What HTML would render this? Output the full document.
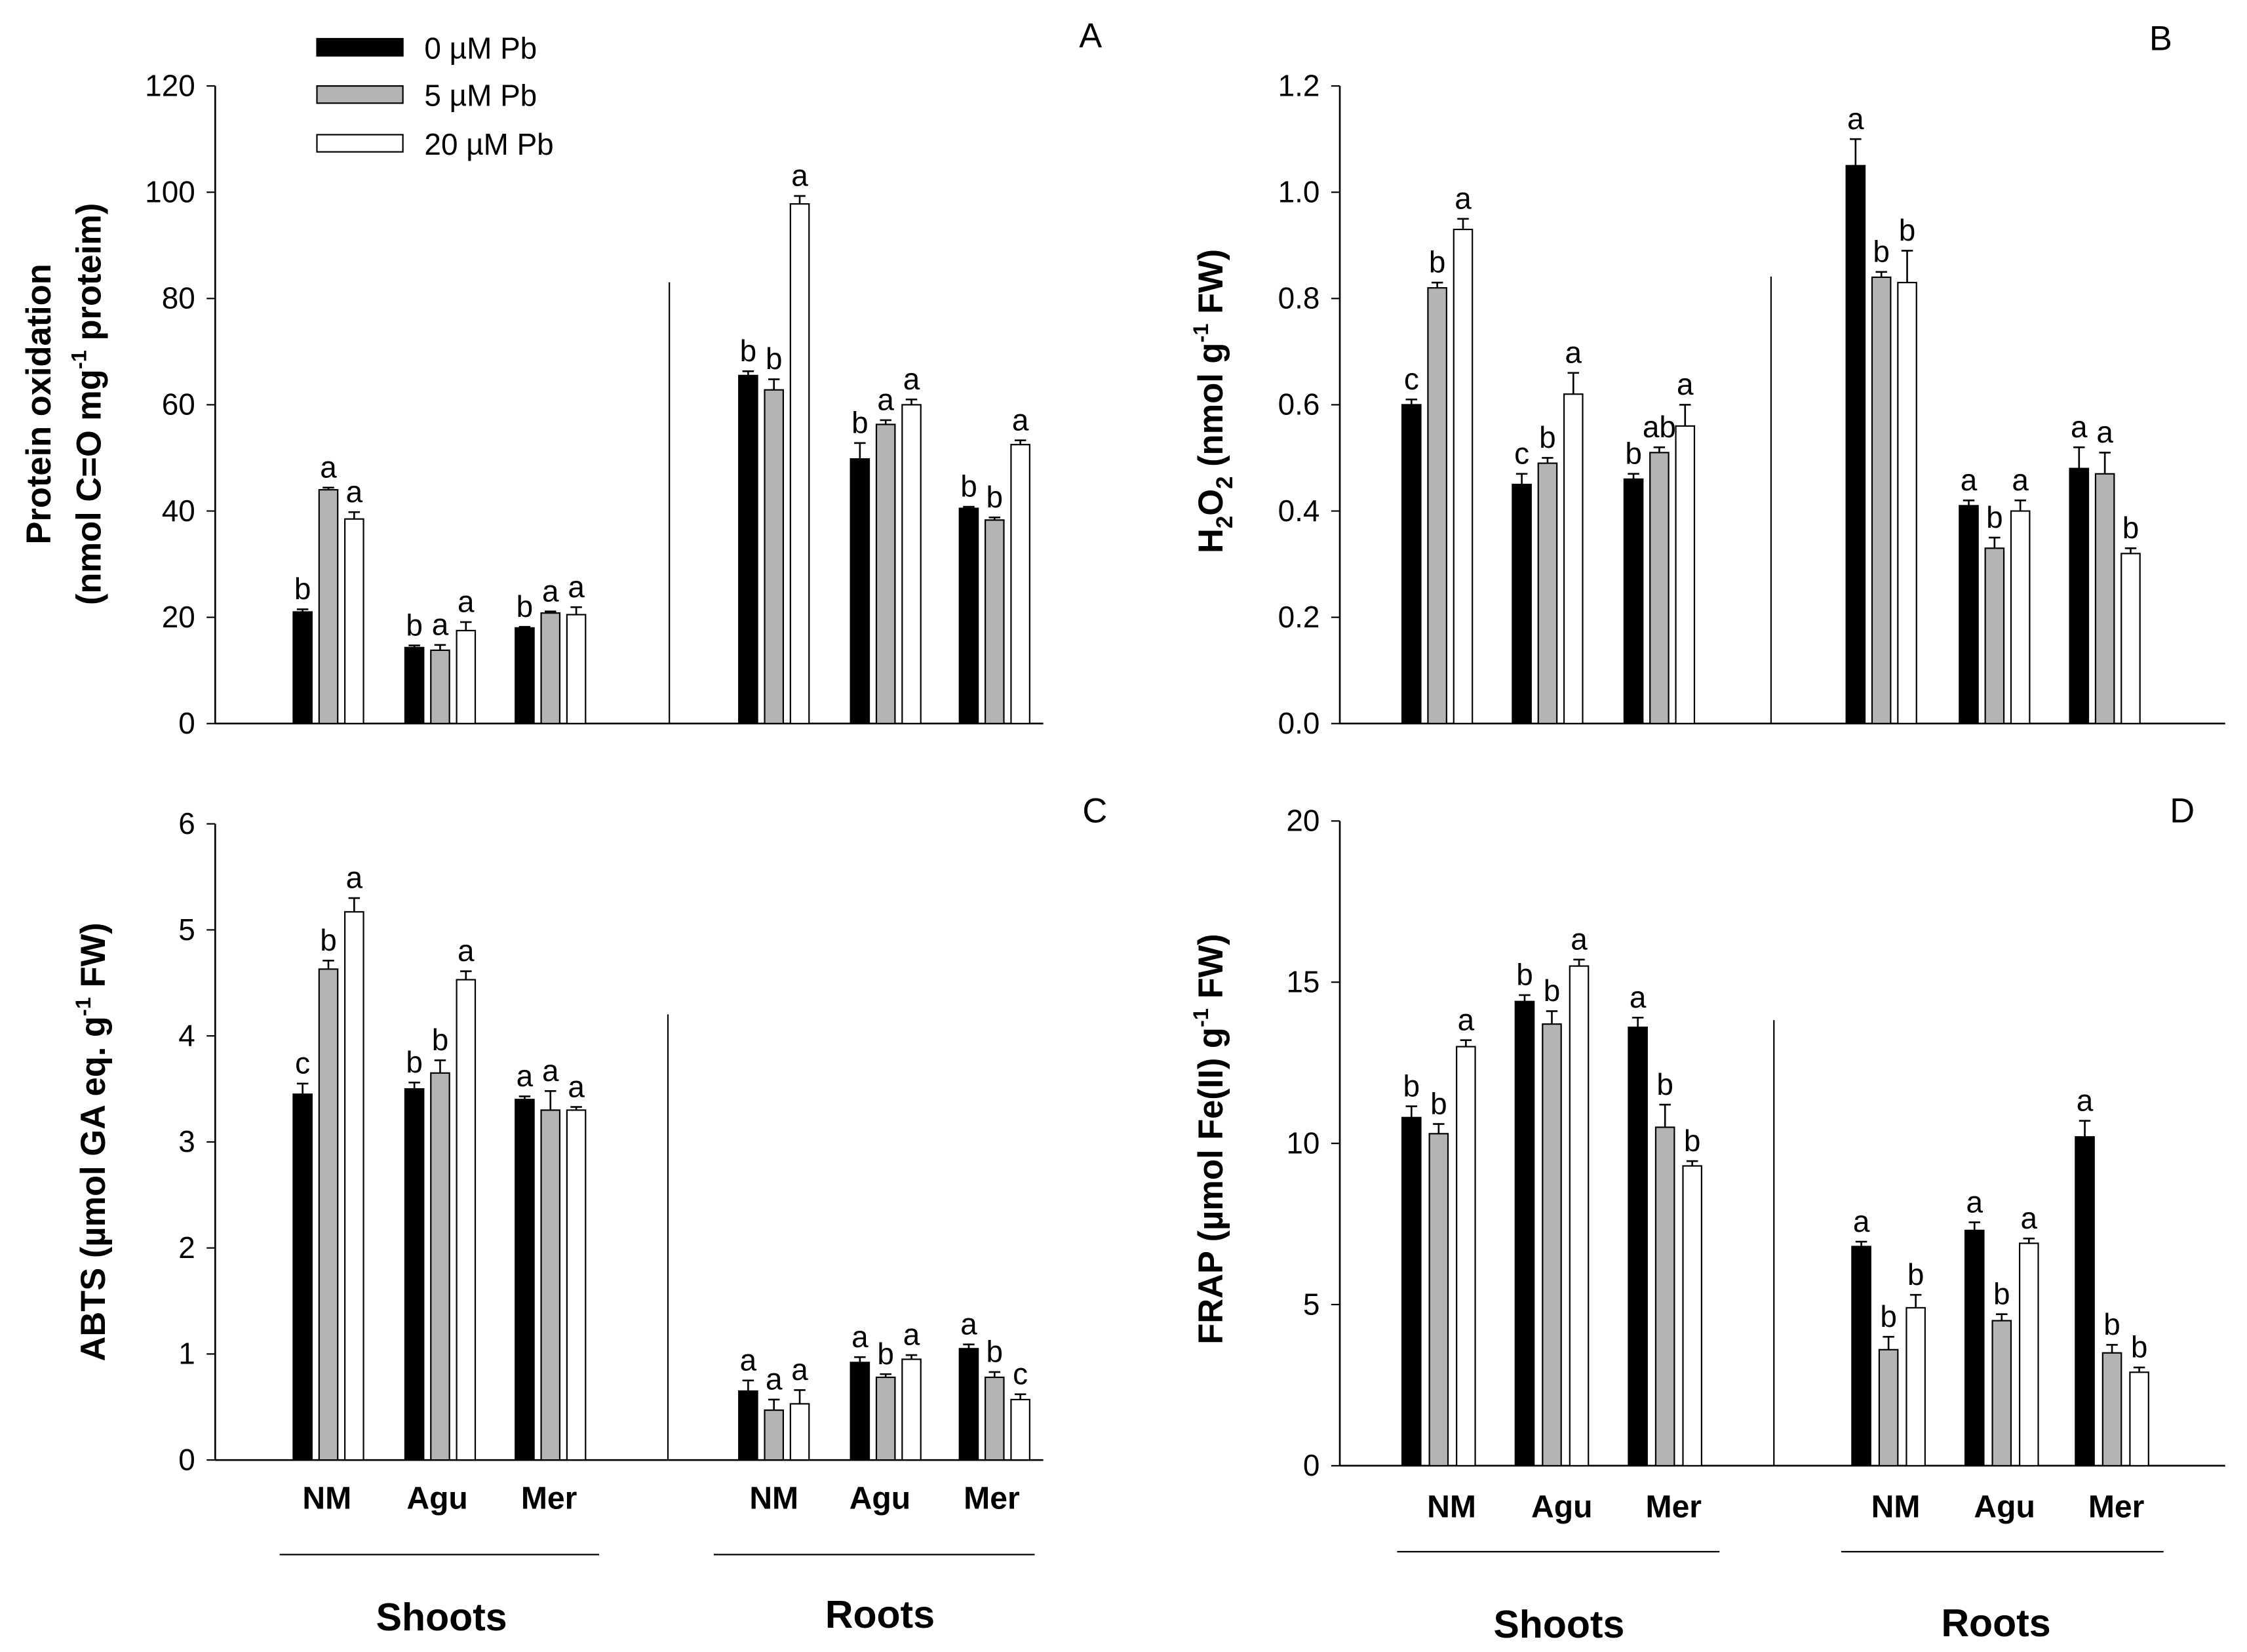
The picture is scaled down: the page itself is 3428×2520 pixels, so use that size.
<!DOCTYPE html>
<html><head><meta charset="utf-8"><style>
html,body{margin:0;padding:0;background:#fff}
svg{display:block}
text{font-family:"Liberation Sans",Arial,sans-serif;fill:#000}
</style></head><body>
<svg id="fig" width="3428" height="2520" viewBox="0 0 1568 1153" xmlns="http://www.w3.org/2000/svg"></svg>
<script>
// ---- data ----
const categories = ["NM","Agu","Mer","NM","Agu","Mer"];
const seriesNames = ["0 µM Pb","5 µM Pb","20 µM Pb"];
// Panel A: protein oxidation
const aValues = [[21,44,38.5],[14.3,13.8,17.5],[18,20.8,20.5],[65.5,62.8,97.8],[49.8,56.3,60],[40.5,38.3,52.5]];
const aErrors = [[0.5,0.4,1.3],[0.4,1,1.6],[0.2,0.3,1.4],[0.8,2,1.5],[3,0.8,1],[0.3,0.5,0.8]];
const aLetters = [["b","a","a"],["b","a","a"],["b","a","a"],["b","b","a"],["b","a","a"],["b","b","a"]];
const aTicks = ["0","20","40","60","80","100","120"];
// Panel B: H2O2
const bValues = [[0.60,0.82,0.93],[0.45,0.49,0.62],[0.46,0.51,0.56],[1.05,0.84,0.83],[0.41,0.33,0.40],[0.48,0.47,0.32]];
const bErrors = [[0.01,0.01,0.02],[0.02,0.01,0.04],[0.01,0.01,0.04],[0.05,0.01,0.06],[0.01,0.02,0.02],[0.04,0.04,0.01]];
const bLetters = [["c","b","a"],["c","b","a"],["b","ab","a"],["a","b","b"],["a","b","a"],["a","a","b"]];
const bTicks = ["0.0","0.2","0.4","0.6","0.8","1.0","1.2"];
// Panel C: ABTS
const cValues = [[3.45,4.63,5.17],[3.5,3.65,4.53],[3.4,3.3,3.3],[0.65,0.47,0.53],[0.92,0.78,0.95],[1.05,0.78,0.57]];
const cErrors = [[0.1,0.08,0.13],[0.06,0.12,0.08],[0.03,0.18,0.03],[0.1,0.1,0.13],[0.05,0.03,0.04],[0.04,0.05,0.05]];
const cLetters = [["c","b","a"],["b","b","a"],["a","a","a"],["a","a","a"],["a","b","a"],["a","b","c"]];
const cTicks = ["0","1","2","3","4","5","6"];
// Panel D: FRAP
const dValues = [[10.8,10.3,13.0],[14.4,13.7,15.5],[13.6,10.5,9.3],[6.8,3.6,4.9],[7.3,4.5,6.9],[10.2,3.5,2.9]];
const dErrors = [[0.35,0.3,0.2],[0.2,0.4,0.2],[0.3,0.7,0.15],[0.15,0.4,0.4],[0.25,0.2,0.15],[0.5,0.25,0.15]];
const dLetters = [["b","b","a"],["b","b","a"],["a","b","b"],["a","b","b"],["a","b","a"],["a","b","b"]];
const dTicks = ["0","5","10","15","20"];

const NS="http://www.w3.org/2000/svg";
const svg=document.getElementById('fig');
function el(tag,attrs,parent){const e=document.createElementNS(NS,tag);for(const k in attrs)e.setAttribute(k,attrs[k]);(parent||svg).appendChild(e);return e;}
const fills=["#000","#b4b4b4","#fff"];

function panel(cfg){
  const g=el('g',{});
  
  
  const max=parseFloat(cfg.ticks[cfg.ticks.length-1]);
  const y=v=>cfg.yBot-(v/max)*(cfg.yBot-cfg.yTop);
  const ya=el('line',{x1:cfg.x0,y1:cfg.yTop,x2:cfg.x0,y2:cfg.yBot,stroke:'#000','stroke-width':1.2},g);
  
  const xa=el('line',{x1:cfg.x0,y1:cfg.yBot,x2:cfg.x1,y2:cfg.yBot,stroke:'#000','stroke-width':1.2},g);
  
  cfg.ticks.forEach(t=>{
    const ty=y(parseFloat(t));
    el('line',{x1:cfg.x0-6,y1:ty,x2:cfg.x0,y2:ty,stroke:'#000','stroke-width':1},g);
    const tx=el('text',{x:cfg.x0-14,y:ty+7,'text-anchor':'end','font-size':21},g);
    tx.textContent=t;
    
    
  });
  el('line',{x1:cfg.div,y1:cfg.divTop,x2:cfg.div,y2:cfg.yBot,stroke:'#000','stroke-width':1},g);
  cfg.values.forEach((grp,gi)=>{
    grp.forEach((v,si)=>{
      const cx=cfg.centers[gi]+(si-1)*cfg.step;
      const top=y(v), et=y(v+cfg.errors[gi][si]);
      const r=el('rect',{x:cx-6.5,y:top,width:13,height:cfg.yBot-top,fill:fills[si],stroke:'#000','stroke-width':1},g);
      
      
      el('line',{x1:cx,y1:top,x2:cx,y2:et,stroke:'#000','stroke-width':1.2},g);
      el('line',{x1:cx-4,y1:et,x2:cx+4,y2:et,stroke:'#000','stroke-width':1.2},g);
      const lt=el('text',{x:cx,y:et-7,'text-anchor':'middle','font-size':21},g);
      lt.textContent=cfg.letters[gi][si];
      
      
    });
  });
  const pl=el('text',{x:cfg.letterX,y:cfg.letterY,'text-anchor':'middle','font-size':24},g);
  pl.textContent=cfg.id.toUpperCase();
  
  
  const yt=el('text',{x:0,y:0,'text-anchor':'middle','font-size':24,'font-weight':'bold',transform:`translate(${cfg.titleX},${cfg.titleY}) rotate(-90)`},g);
  yt.innerHTML=cfg.title;
  
  
  if(cfg.title2){
    const yt2=el('text',{x:0,y:0,'text-anchor':'middle','font-size':24,'font-weight':'bold',transform:`translate(${cfg.titleX+35},${cfg.titleY}) rotate(-90)`},g);
    yt2.innerHTML=cfg.title2;
    
    
  }
  if(cfg.catY){
    categories.forEach((c,i)=>{
      const t=el('text',{x:cfg.catX[i],y:cfg.catY,'text-anchor':'middle','font-size':22,'font-weight':'bold'},g);
      t.textContent=c;
      
      
    });
    cfg.groups.forEach(gr=>{
      el('line',{x1:gr[0],y1:cfg.lineY,x2:gr[1],y2:cfg.lineY,stroke:'#000','stroke-width':1},g);
      const t=el('text',{x:gr[2],y:gr[3],'text-anchor':'middle','font-size':27,'font-weight':'bold'},g);
      t.textContent=gr[4];
      
      
    });
  }
}

panel({id:'a',x0:150,x1:728,yTop:60,yBot:505,ticks:aTicks,values:aValues,errors:aErrors,letters:aLetters,
  centers:[229,307,384,540,618,694],step:18,div:467,divTop:197,letterX:761,letterY:33,
  titleX:35,titleY:282,title:'Protein oxidation',title2:'(nmol C=O mg<tspan font-size="15" dy="-10">-1</tspan><tspan dy="10"> proteim)</tspan>'});
panel({id:'b',x0:935,x1:1553,yTop:60,yBot:505,ticks:bTicks,values:bValues,errors:bErrors,letters:bLetters,
  centers:[1003,1080,1158,1313,1392,1469],step:18,div:1236,divTop:193,letterX:1508,letterY:35,
  titleX:853,titleY:280,title:'H<tspan font-size="16" dy="7">2</tspan><tspan dy="-7">O</tspan><tspan font-size="16" dy="7">2</tspan><tspan dy="-7"> (nmol g</tspan><tspan font-size="15" dy="-10">-1</tspan><tspan dy="10"> FW)</tspan>'});
panel({id:'c',x0:150,x1:728,yTop:575,yBot:1019,ticks:cTicks,values:cValues,errors:cErrors,letters:cLetters,
  centers:[229,307,384,540,618,694],step:18,div:466,divTop:708,letterX:764,letterY:574,
  titleX:73,titleY:797,title:'ABTS (µmol GA eq. g<tspan font-size="15" dy="-10">-1</tspan><tspan dy="10"> FW)</tspan>',
  catY:1053,catX:[228,305,383,540,614,692],lineY:1085,groups:[[195,418,308,1138,'Shoots'],[498,722,614,1136,'Roots']]});
panel({id:'d',x0:935,x1:1553,yTop:573,yBot:1023,ticks:dTicks,values:dValues,errors:dErrors,letters:dLetters,
  centers:[1004,1083,1162,1318,1397,1474],step:19,div:1238,divTop:712,letterX:1523,letterY:574,
  titleX:853,titleY:795,title:'FRAP (µmol Fe(II) g<tspan font-size="15" dy="-10">-1</tspan><tspan dy="10"> FW)</tspan>',
  catY:1059,catX:[1013,1090,1168,1323,1399,1477],lineY:1083,groups:[[975,1200,1088,1143,'Shoots'],[1285,1510,1393,1142,'Roots']]});

const lg=el('g',{});


[27,60,94].forEach((ly,i)=>{
  el('rect',{x:221,y:ly,width:60,height:12,fill:fills[i],stroke:'#000','stroke-width':1},lg);
  const t=el('text',{x:296,y:ly+14,'font-size':21},lg);
  t.textContent=seriesNames[i];
  
  
});
</script>
</body></html>
